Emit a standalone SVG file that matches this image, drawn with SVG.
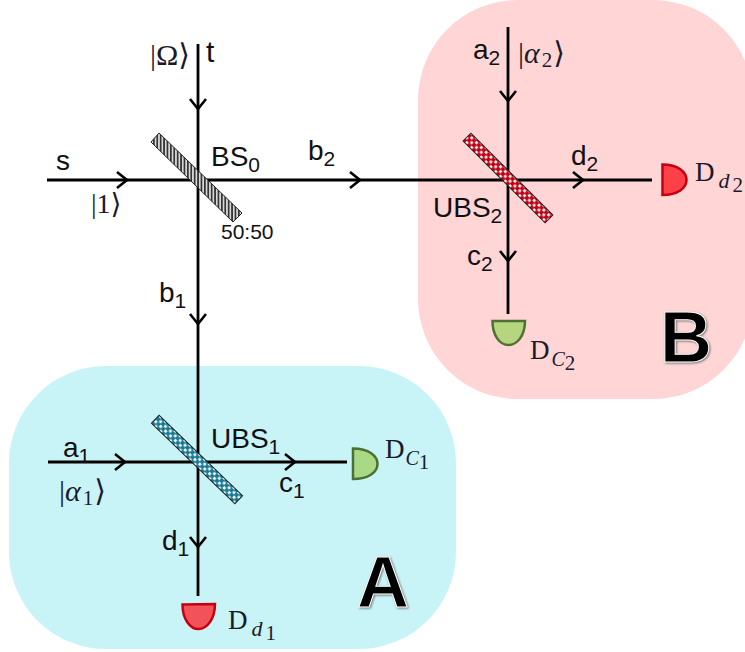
<svg xmlns="http://www.w3.org/2000/svg" width="745" height="652" viewBox="0 0 745 652">
<style>
.t{font-family:"Liberation Sans",Arial,sans-serif;font-size:28px;fill:#111}
.m{font-family:"Liberation Serif","DejaVu Serif",serif;font-size:30px;fill:#1a1a2a}
.d{font-size:27px}
.i{font-style:italic}
.s{font-size:21px}
.u{font-size:22px;font-style:italic}
.c{font-size:20px;font-style:italic}
.big{font-family:"Liberation Sans",Arial,sans-serif;font-weight:700;font-size:72px;fill:#000;stroke:#fff;stroke-width:1;filter:drop-shadow(1.5px 1.5px 0.8px #777)}
.ln{fill:none;stroke:#000;stroke-width:2.8;marker-mid:url(#ch)}
.bs{stroke:#222;stroke-width:1}
.dg{fill:#b5d67f;stroke:#4d7033;stroke-width:2.5}
.dr{fill:#f2525a;stroke:#c40010;stroke-width:2.5}
</style>
<defs>
<marker id="ch" markerUnits="userSpaceOnUse" markerWidth="20" markerHeight="22" refX="14" refY="11" orient="auto" overflow="visible">
<path d="M4 3 L14 11 L4 19" fill="none" stroke="#000" stroke-width="2.6"/>
</marker>
<pattern id="hatch" patternUnits="userSpaceOnUse" width="3.4" height="3">
<rect width="3.4" height="3" fill="#d8d8d8"/><rect width="1.7" height="3" fill="#333"/>
</pattern>
<pattern id="dotB" patternUnits="userSpaceOnUse" width="6.8" height="6.8">
<rect width="6.8" height="6.8" fill="#157a94"/><rect x="0.4" y="0.6" width="2.7" height="2.7" fill="#fff"/><rect x="3.8" y="4" width="2.7" height="2.7" fill="#fff"/>
</pattern>
<pattern id="dotR" patternUnits="userSpaceOnUse" width="6.8" height="6.8">
<rect width="6.8" height="6.8" fill="#c20012"/><rect x="0.4" y="0.6" width="2.7" height="2.7" fill="#fff"/><rect x="3.8" y="4" width="2.7" height="2.7" fill="#fff"/>
</pattern>
</defs>

<g id="region-B"><rect x="418" y="0" width="335" height="399" rx="100" fill="#ffd5d5"/></g>
<g id="region-A"><rect x="9" y="366" width="447" height="283" rx="97" fill="#c9f4f7"/></g>

<g id="connectors">
<path class="ln" d="M198 44 L198 109 L198 324 L198 547 L198 596"/>
<path class="ln" d="M47 180 L127 180 L360 180 L583 180 L652 180"/>
<path class="ln" d="M508 27 L508 101 L508 261 L508 314"/>
<path class="ln" d="M48 462 L125 462 L295 462 L347 462"/>
</g>

<g id="BS0">
<polygon class="bs" points="159,133 151,142 233,222 242,213" fill="url(#hatch)"/>
<text class="t" x="211" y="166">BS<tspan class="s" dy="6">0</tspan></text>
<text class="t" x="221" y="239" style="font-size:21px">50:50</text>
</g>
<g id="UBS2">
<rect class="bs" x="450" y="172.500" width="116" height="11" transform="rotate(45 508 178)" fill="url(#dotR)"/>
<text class="t" x="433" y="217">UBS<tspan class="s" dy="6">2</tspan></text>
</g>
<g id="UBS1">
<rect class="bs" x="139" y="454" width="116" height="11" transform="rotate(44 197 459.500)" fill="url(#dotB)"/>
<text class="t" x="211" y="448">UBS<tspan class="s" dy="6">1</tspan></text>
</g>

<g id="Dd2">
<path class="dr" style="fill:#ff4048" d="M662.500 164.500 C678 164.500 686.500 172 686.500 180 C686.500 188 678 195 662.500 195 Z"/>
<text class="m d" x="695" y="181">D<tspan class="u" dx="4" dy="7">d</tspan><tspan class="s" dx="3" dy="4">2</tspan></text>
</g>
<g id="DC2">
<path class="dg" d="M492.500 321 L525 321 C525 336 517 345 508.500 345 C500 345 492.500 336 492.500 321 Z"/>
<text class="m d" x="530" y="359">D<tspan class="c" dx="2" dy="7">C</tspan><tspan class="s" dy="4">2</tspan></text>
</g>
<g id="DC1">
<path class="dg" style="fill:#a9d987" d="M353 448.500 C369 448.500 377.500 456 377.500 464 C377.500 472 369 479 353 479 Z"/>
<text class="m d" x="385" y="458">D<tspan class="c" dx="1" dy="7">C</tspan><tspan class="s" dy="4">1</tspan></text>
</g>
<g id="Dd1">
<path class="dr" d="M182.500 604.500 L215 604 C215 619 207 629 198.500 629 C190 629 182.500 619 182.500 604.500 Z"/>
<text class="m d" x="228" y="629">D<tspan class="u" dx="4" dy="7">d</tspan><tspan class="s" dx="3" dy="4">1</tspan></text>
</g>

<g id="labels">
<text class="m" x="150" y="65">|Ω⟩</text>
<text class="t" x="206" y="62" style="font-size:30px">t</text>
<text class="t" x="56" y="170">s</text>
<text class="m" x="91" y="213" style="font-size:28px">|1⟩</text>
<text class="t" x="308" y="160">b<tspan class="s" dy="6">2</tspan></text>
<text class="t" x="159" y="302">b<tspan class="s" dy="6">1</tspan></text>
<text class="t" x="473" y="59">a<tspan class="s" dy="6">2</tspan></text>
<text class="m" x="518" y="63">|<tspan class="i">α</tspan><tspan class="s" dx="2" dy="4">2</tspan><tspan dx="1" dy="-4">⟩</tspan></text>
<text class="t" x="571" y="165">d<tspan class="s" dy="6">2</tspan></text>
<text class="t" x="467" y="265">c<tspan class="s" dy="6">2</tspan></text>
<text class="t" x="63" y="457">a<tspan class="s" dy="6">1</tspan></text>
<text class="m" x="59" y="501">|<tspan class="i">α</tspan><tspan class="s" dx="2" dy="4">1</tspan><tspan dx="1" dy="-4">⟩</tspan></text>
<text class="t" x="279" y="492">c<tspan class="s" dy="6">1</tspan></text>
<text class="t" x="162" y="550">d<tspan class="s" dy="6">1</tspan></text>
<text class="big" x="357" y="607">A</text>
<text class="big" x="660" y="362">B</text>
</g>
</svg>
